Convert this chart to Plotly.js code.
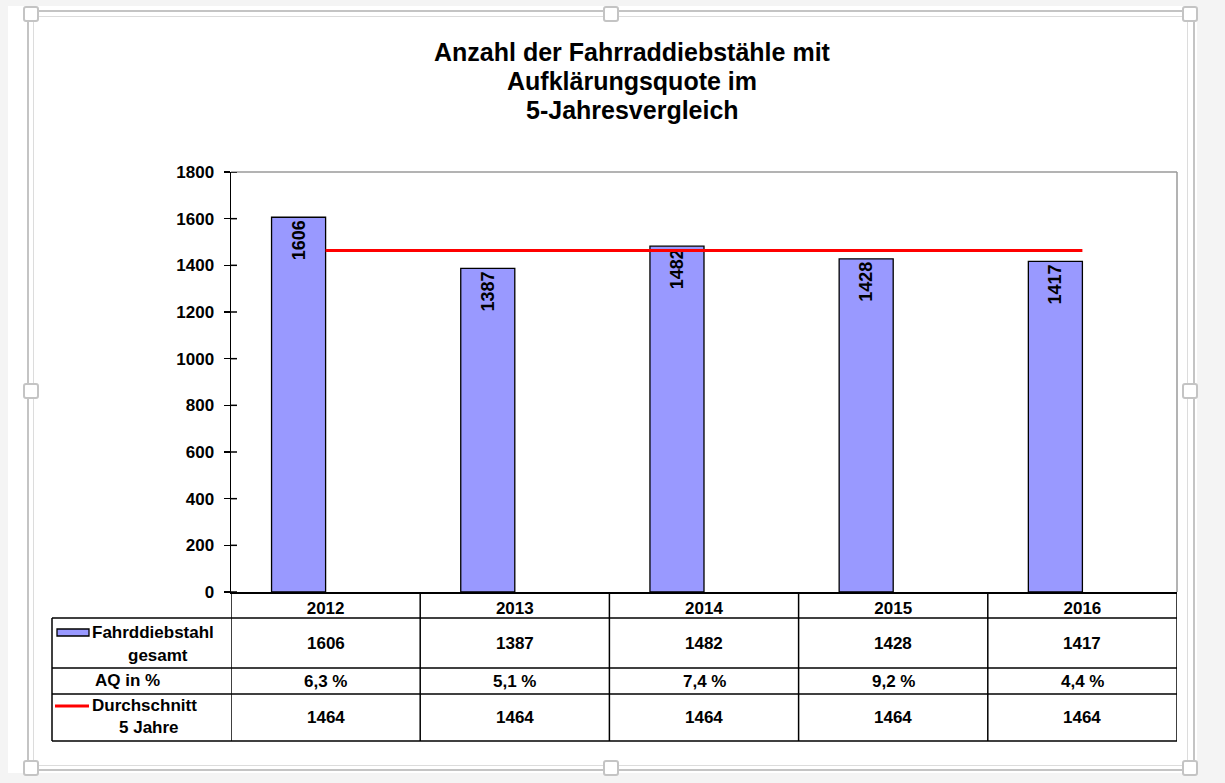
<!DOCTYPE html>
<html><head><meta charset="utf-8">
<script src="https://cdn.plot.ly/plotly-3.0.1.min.js"></script>
<style>
html,body{margin:0;padding:0;background:#f4f4f4;width:1225px;height:783px;overflow:hidden;}
#sheet{position:absolute;left:8px;top:6px;width:1189px;height:767px;background:#fff;}
.fr{position:absolute;box-sizing:border-box;}
#outer{left:27px;top:10px;width:1168px;height:761px;border:2px solid #c4c4c4;}
#inner{left:33px;top:16px;width:1155px;height:750px;border:1px solid #dcdcdc;}
.h{position:absolute;width:16px;height:16px;background:#fff;border:2px solid #c4c4c4;border-radius:3px;box-sizing:border-box;}
#chart{position:absolute;left:0;top:0;width:1225px;height:783px;}
</style></head>
<body>
<div id="sheet"></div>
<div class="fr" id="outer"></div>
<div class="fr" id="inner"></div>
<div id="handles"></div>
<div id="chart"></div>
<script>
// ---- data ----
const years = ['2012', '2013', '2014', '2015', '2016'];
const theftTotal = [1606, 1387, 1482, 1428, 1417];
const aqPercent = ['6,3 %', '5,1 %', '7,4 %', '9,2 %', '4,4 %'];
const avg5Years = [1464, 1464, 1464, 1464, 1464];
const yTickVals = [0, 200, 400, 600, 800, 1000, 1200, 1400, 1600, 1800];
const titleLines = ['Anzahl der Fahrraddiebstähle mit', 'Aufklärungsquote im', '5-Jahresvergleich'];
const rowLabelTheft = ['Fahrddiebstahl', 'gesamt'];
const rowLabelAQ = 'AQ in %';
const rowLabelAvg = ['Durchschnitt', '5 Jahre'];

// ---- selection handles (decoration) ----
const hc = [[31,14],[611,14],[1190,14],[31,391],[1190,391],[31,768],[611,768],[1190,768]];
const hd = document.getElementById('handles');
hc.forEach(([cx,cy]) => {
  const d = document.createElement('div');
  d.className = 'h'; d.style.left = (cx-8)+'px'; d.style.top = (cy-8)+'px';
  hd.appendChild(d);
});

// ---- geometry helpers (pixels -> paper) ----
const L = 231, R = 1177, T = 172, B = 592;
const W = R - L, H = B - T;
const px = x => (x - L) / W;
const py = y => (B - y) / H;

const FONT = 'Liberation Sans, Arial, sans-serif';
const bf = (s) => ({family: FONT, size: s, color: '#000', weight: 'bold'});

const traces = [
  {
    type: 'bar', x: years, y: theftTotal,
    width: 0.2857, offset: -0.2857,
    marker: {color: '#9999ff', line: {color: '#000', width: 1.3}},
    text: theftTotal.map(String), textposition: 'inside', insidetextanchor: 'end',
    textangle: -90, textfont: bf(18), hoverinfo: 'x+y', cliponaxis: false
  },
  {
    type: 'scatter', mode: 'lines', x: years, y: avg5Years,
    line: {color: '#ff0000', width: 3}, hoverinfo: 'x+y'
  }
];

const shapes = [];
const annotations = [];

// plot area top/right border
shapes.push({type: 'line', xref: 'paper', yref: 'paper', x0: 0, x1: 1, y0: 1, y1: 1, line: {color: '#9a9a9a', width: 1.5}});
shapes.push({type: 'line', xref: 'paper', yref: 'paper', x0: 1, x1: 1, y0: 0, y1: 1, line: {color: '#9a9a9a', width: 1.5}});
// inner half of crossing ticks
yTickVals.forEach(v => shapes.push({type: 'line', xref: 'paper', yref: 'y', x0: 0, x1: 6 / W, y0: v, y1: v, line: {color: '#000', width: 1.5}}));

// data table grid
const rowY = [618, 668, 694, 741];
const tableLeft = 52;
rowY.forEach(y => shapes.push({type: 'line', xref: 'paper', yref: 'paper', x0: px(tableLeft), x1: 1, y0: py(y), y1: py(y), line: {color: '#000', width: 1.5}}));
for (let i = 0; i <= years.length; i++) {
  shapes.push({type: 'line', xref: 'x', yref: 'paper', x0: i - 0.5, x1: i - 0.5, y0: 0, y1: py(741), line: {color: '#000', width: 1.5}});
}
shapes.push({type: 'line', xref: 'paper', yref: 'paper', x0: px(tableLeft), x1: px(tableLeft), y0: py(618), y1: py(741), line: {color: '#000', width: 1.5}});
// legend keys in table
shapes.push({type: 'rect', xref: 'paper', yref: 'paper', x0: px(57), x1: px(89), y0: py(636), y1: py(629), fillcolor: '#9999ff', line: {color: '#000', width: 1.3}});
shapes.push({type: 'line', xref: 'paper', yref: 'paper', x0: px(55), x1: px(89), y0: py(706), y1: py(706), line: {color: '#ff0000', width: 3}});

// table values (x as category index)
const rowCenters = [643, 681, 717];
[theftTotal.map(String), aqPercent, avg5Years.map(String)].forEach((row, r) => {
  row.forEach((v, i) => annotations.push({xref: 'x', yref: 'paper', x: i, y: py(rowCenters[r]), text: v, showarrow: false, font: bf(17), xanchor: 'center', yanchor: 'middle'}));
});
// row labels
annotations.push({xref: 'paper', yref: 'paper', x: px(90), y: py(632), text: rowLabelTheft[0], showarrow: false, font: bf(17), xanchor: 'left', yanchor: 'middle'});
annotations.push({xref: 'paper', yref: 'paper', x: px(158), y: py(655), text: rowLabelTheft[1], showarrow: false, font: bf(17), xanchor: 'center', yanchor: 'middle'});
annotations.push({xref: 'paper', yref: 'paper', x: px(127), y: py(680), text: rowLabelAQ, showarrow: false, font: bf(17), xanchor: 'center', yanchor: 'middle'});
annotations.push({xref: 'paper', yref: 'paper', x: px(90), y: py(705), text: rowLabelAvg[0], showarrow: false, font: bf(17), xanchor: 'left', yanchor: 'middle'});
annotations.push({xref: 'paper', yref: 'paper', x: px(149), y: py(727), text: rowLabelAvg[1], showarrow: false, font: bf(17), xanchor: 'center', yanchor: 'middle'});

// title lines
const titleY = [52, 81, 110];
titleLines.forEach((t, i) => annotations.push({xref: 'paper', yref: 'paper', x: px(632), y: py(titleY[i]), text: t, showarrow: false, font: bf(25), xanchor: 'center', yanchor: 'middle'}));

const layout = {
  width: 1225, height: 783,
  margin: {l: L, r: 1225 - R, t: T, b: 783 - B, pad: 0},
  paper_bgcolor: 'rgba(0,0,0,0)', plot_bgcolor: '#ffffff',
  showlegend: false,
  font: {family: FONT, color: '#000'},
  bargap: 0,
  xaxis: {
    type: 'category', range: [-0.5, 4.5], fixedrange: true,
    showline: true, linecolor: '#000', linewidth: 1.5,
    ticks: '', showgrid: false, zeroline: false,
    tickfont: bf(17), ticklabelstandoff: 0
  },
  yaxis: {
    range: [0, 1800], tickvals: yTickVals, fixedrange: true,
    showline: true, linecolor: '#000', linewidth: 1.5,
    ticks: 'outside', ticklen: 6, tickwidth: 1.5, tickcolor: '#000',
    showgrid: false, zeroline: false,
    tickfont: bf(17), ticklabelstandoff: 6
  },
  shapes: shapes,
  annotations: annotations
};

Plotly.newPlot('chart', traces, layout, {displayModeBar: false, staticPlot: true});
</script>
</body></html>
